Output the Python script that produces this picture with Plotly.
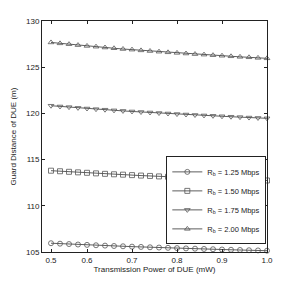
import plotly.graph_objects as go

# Transmission power of DUE (mW)
power = [0.52, 0.54, 0.56, 0.58, 0.60, 0.62, 0.64, 0.66, 0.68, 0.70, 0.72, 0.74, 0.76,
         0.78, 0.80, 0.82, 0.84, 0.86, 0.88, 0.90, 0.92, 0.94, 0.96, 0.98, 1.00]

rb_125 = [105.95, 105.90, 105.86, 105.81, 105.77, 105.73, 105.69, 105.65, 105.62, 105.58,
          105.55, 105.51, 105.48, 105.45, 105.42, 105.39, 105.36, 105.33, 105.30, 105.27,
          105.24, 105.22, 105.19, 105.17, 105.14]
rb_150 = [113.80, 113.74, 113.68, 113.62, 113.57, 113.51, 113.46, 113.41, 113.37, 113.32,
          113.27, 113.23, 113.18, 113.14, 113.10, 113.06, 113.02, 112.98, 112.95, 112.91,
          112.88, 112.84, 112.81, 112.77, 112.74]
rb_175 = [120.83, 120.75, 120.68, 120.60, 120.53, 120.46, 120.40, 120.33, 120.27, 120.21,
          120.15, 120.10, 120.04, 119.99, 119.93, 119.88, 119.83, 119.78, 119.74, 119.69,
          119.64, 119.60, 119.55, 119.51, 119.47]
rb_200 = [127.68, 127.58, 127.49, 127.39, 127.30, 127.22, 127.13, 127.05, 126.97, 126.90,
          126.82, 126.75, 126.68, 126.61, 126.55, 126.48, 126.42, 126.36, 126.30, 126.24,
          126.18, 126.12, 126.07, 126.01, 125.96]

series_names = ["R<sub>b</sub> = 1.25 Mbps", "R<sub>b</sub> = 1.50 Mbps",
                "R<sub>b</sub> = 1.75 Mbps", "R<sub>b</sub> = 2.00 Mbps"]
series_values = [rb_125, rb_150, rb_175, rb_200]
series_symbols = ["circle-open", "square-open", "triangle-down-open", "triangle-up-open"]

x_tickvals = [0.52, 0.6, 0.7, 0.8, 0.9, 1.0]
x_ticktext = ["0.5", "0.6", "0.7", "0.8", "0.9", "1.0"]
y_tickvals = [105, 110, 115, 120, 125, 130]

fig = go.Figure()
for name, vals, sym in zip(series_names, series_values, series_symbols):
    fig.add_trace(go.Scatter(
        x=power, y=vals, name=name, mode="lines+markers",
        line=dict(color="#333333", width=0.8),
        marker=dict(symbol=sym, size=5, color="#555555", line=dict(width=0.8, color="#444444")),
        cliponaxis=False,
    ))

fam = "Liberation Sans, Arial, sans-serif"
fig.update_layout(
    width=295, height=284,
    margin=dict(l=39, r=28, t=21, b=32),
    paper_bgcolor="white", plot_bgcolor="white",
    font=dict(family=fam, size=8, color="#222222"),
    showlegend=True,
    legend=dict(
        x=0.997, xanchor="right", y=0.033, yanchor="bottom",
        bgcolor="white", bordercolor="#222222", borderwidth=1,
        font=dict(family=fam, size=7.5, color="#222222"),
        itemwidth=30, tracegroupgap=0,
    ),
    xaxis=dict(
        range=[0.5, 1.0], tickvals=x_tickvals, ticktext=x_ticktext,
        ticks="inside", ticklen=3, tickcolor="#222222", mirror="allticks",
        showline=True, linecolor="#222222", linewidth=1, showgrid=False, zeroline=False,
        tickfont=dict(size=8),
        title=dict(text="Transmission Power of DUE (mW)", standoff=2, font=dict(size=8)),
    ),
    yaxis=dict(
        range=[105, 130], tickvals=y_tickvals,
        ticks="inside", ticklen=3, tickcolor="#222222", mirror="allticks",
        showline=True, linecolor="#222222", linewidth=1, showgrid=False, zeroline=False,
        tickfont=dict(size=8),
        title=dict(text="Guard Distance of DUE (m)", standoff=8, font=dict(size=8)),
    ),
)

fig.write_html("out.html", config={"displayModeBar": False},
               post_script="document.body.style.margin='0px';")
